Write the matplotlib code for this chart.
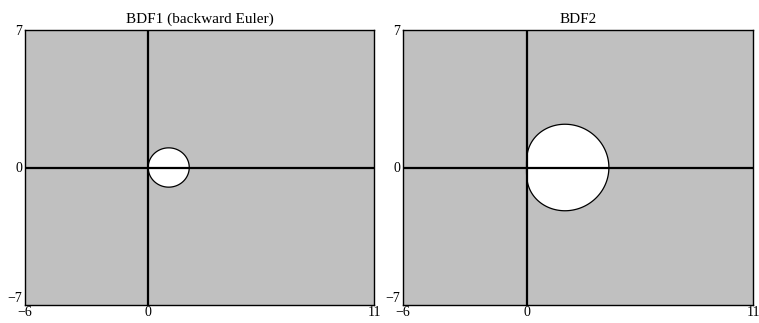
import numpy as np
import matplotlib
matplotlib.use("Agg")
import matplotlib.pyplot as plt

plt.rcParams['font.family'] = ['Liberation Serif', 'DejaVu Serif']
plt.rcParams['axes.unicode_minus'] = True

# BDF characteristic polynomials rho(zeta) and sigma(zeta), highest power first
titles = ["BDF1 (backward Euler)", "BDF2"]
rho_coeffs = [[1.0, -1.0], [1.5, -2.0, 0.5]]
sigma_coeffs = [[1.0, 0.0], [1.0, 0.0, 0.0]]

x_ticks = [-6, 0, 11]
y_ticks = [-7, 0, 7]

fig = plt.figure(figsize=(7.59, 3.23), dpi=100)
W, H = 759, 323
boxes = [(25, 374), (403, 753)]
top_px, bot_px = 30, 305

theta = np.linspace(0, 2 * np.pi, 721)
zeta = np.exp(1j * theta)

for (l, r), title, rho, sig in zip(boxes, titles, rho_coeffs, sigma_coeffs):
    ax = fig.add_axes([l / W, 1 - bot_px / H, (r - l) / W, (bot_px - top_px) / H])
    ax.set_facecolor('#c0c0c0')
    # boundary locus z = rho(zeta) / sigma(zeta) on the unit circle
    z = np.polyval(rho, zeta) / np.polyval(sig, zeta)
    ax.fill(z.real, z.imag, facecolor='white', edgecolor='black', lw=0.9, zorder=2)
    ax.axhline(0, color='black', lw=1.6, zorder=3)
    ax.axvline(0, color='black', lw=1.6, zorder=3)
    ax.set_xlim(x_ticks[0], x_ticks[-1])
    ax.set_ylim(y_ticks[0], y_ticks[-1])
    ax.set_xticks(x_ticks)
    ax.set_yticks(y_ticks)
    ax.tick_params(axis='x', length=0, labelsize=10, pad=1)
    ax.tick_params(axis='y', length=0, labelsize=10, pad=2)
    ax.get_yticklabels()[0].set_verticalalignment('bottom')
    for s in ax.spines.values():
        s.set_linewidth(1.0)
    ax.set_title(title, fontsize=11, pad=5)

fig.savefig("out.png", dpi=100)
